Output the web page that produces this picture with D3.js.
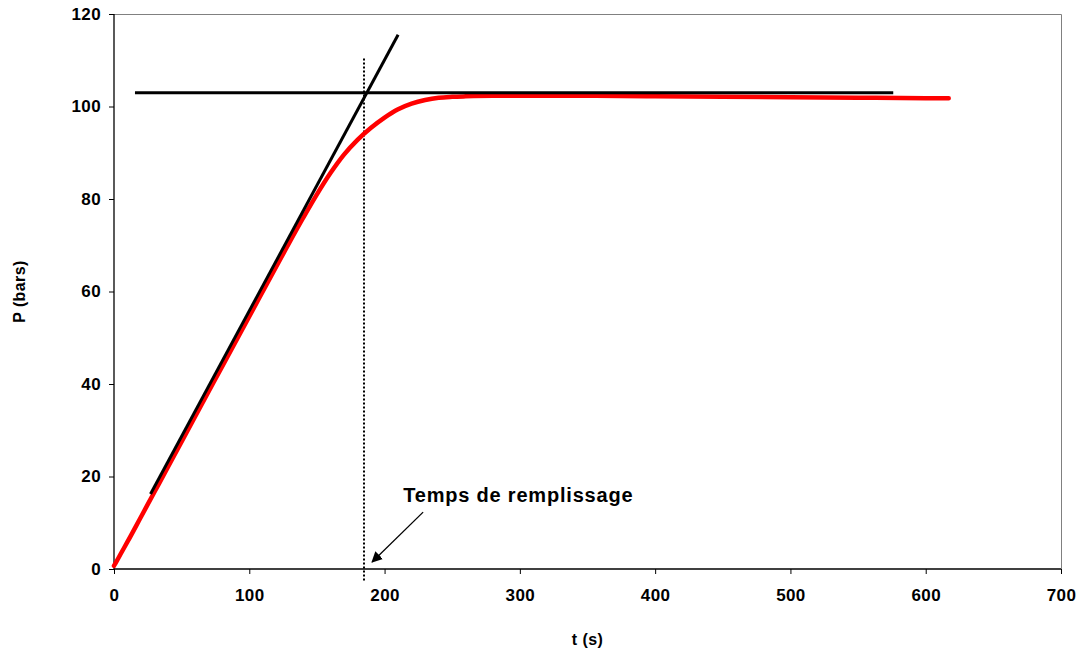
<!DOCTYPE html>
<html><head><meta charset="utf-8">
<script src="https://cdn.jsdelivr.net/npm/d3@7"></script>
<style>body{margin:0;background:#fff}svg{display:block}text{font-family:"Liberation Sans",Arial,sans-serif;font-weight:bold;fill:#000}</style>
</head><body><svg id="c" width="1080" height="653"></svg>
<script>
// Measured pressure curve (red)
const tValues = [0, 2, 5, 10, 20, 30, 40, 60, 80, 100, 120, 140, 150, 160, 170, 180, 190, 200, 210, 220, 230, 240, 250, 260, 280, 300, 350, 400, 450, 500, 550, 600, 617];
const pValues = [0.7, 1.7, 3.3, 5.9, 11.3, 16.7, 22.1, 33.0, 43.8, 54.6, 65.4, 76.0, 81.0, 85.6, 89.6, 92.8, 95.4, 97.6, 99.4, 100.6, 101.4, 101.9, 102.1, 102.2, 102.3, 102.3, 102.3, 102.2, 102.1, 102.0, 101.9, 101.8, 101.8];
// Tangent line (black) endpoints
const tangentT = [27, 210];
const tangentP = [16.2, 115.5];
// Plateau line (black) endpoints
const plateauT = [15.5, 576];
const plateauP = [103, 103];
// Filling time (dotted vertical)
const fillTime = 185;
const fillP = [-2.5, 110.5];
// Annotation
const annotText = "Temps de remplissage";
const annotPos = [213.8, 14.5];
const arrowFrom = [228.5, 12.3];
const arrowTo = [190.8, 1.5];
// Axis ticks
const xTicks = [0, 100, 200, 300, 400, 500, 600, 700];
const yTicks = [0, 20, 40, 60, 80, 100, 120];
const xTitle = "t (s)";
const yTitle = "P (bars)";

const svg = d3.select("#c");
const L = 114, R = 1061, T = 14, B = 569;
const x = d3.scaleLinear().domain([0, 700]).range([L, R]);
const y = d3.scaleLinear().domain([0, 120]).range([B, T]);

svg.append("defs").append("marker").attr("id","ah").attr("viewBox","0 0 10 10")
  .attr("refX",9).attr("refY",5).attr("markerWidth",11).attr("markerHeight",11)
  .attr("markerUnits","userSpaceOnUse").attr("orient","auto")
  .append("path").attr("d","M0,0 L10,5 L0,10 z").attr("fill","#000");

// plot border (top/right grey)
svg.append("path").attr("d",`M${L},${T+0.5}H${R+0.5}V${B}`).attr("fill","none").attr("stroke","#808080").attr("stroke-width",1);

const xa = svg.append("g").attr("transform",`translate(0,${B})`)
  .call(d3.axisBottom(x).tickValues(xTicks).tickSize(5).tickPadding(15).tickFormat(d3.format("d")));
const ya = svg.append("g").attr("transform",`translate(${L},0)`)
  .call(d3.axisLeft(y).tickValues(yTicks).tickSize(5).tickPadding(8).tickFormat(d3.format("d")));
[xa, ya].forEach(g => {
  g.select(".domain").attr("stroke","#000").attr("stroke-width",1.3);
  g.selectAll(".tick line").attr("stroke","#000").attr("stroke-width",1);
  g.selectAll(".tick text").style("font-size","17px").style("letter-spacing","0.4px").style("font-family","'Liberation Sans',Arial,sans-serif").style("font-weight","bold").attr("fill","#000");
});
ya.select(".domain").attr("d",`M0,${B}V${T}`);
xa.select(".domain").attr("d",`M0,0H${R-L}`).attr("transform",`translate(${L},0)`);

const line = d3.line().x(d => x(d[0])).y(d => y(d[1]));

// dotted vertical
const fx = Math.round(x(fillTime));
svg.append("line").attr("x1",fx).attr("x2",fx).attr("y1",y(fillP[0])).attr("y2",y(fillP[1]))
  .attr("stroke","#000").attr("stroke-width",2).attr("stroke-dasharray","2,2");

// red curve
svg.append("path").attr("d", d3.line().curve(d3.curveMonotoneX).x(d=>x(d[0])).y(d=>y(d[1]))(tValues.map((t,i)=>[t,pValues[i]])))
  .attr("stroke","#ff0000").attr("stroke-width",4.5).attr("fill","none").attr("stroke-linecap","round").attr("stroke-linejoin","round");

// tangent & plateau
svg.append("path").attr("d", line(tangentT.map((t,i)=>[t,tangentP[i]])))
  .attr("stroke","#000").attr("stroke-width",3).attr("fill","none");
svg.append("path").attr("d", line(plateauT.map((t,i)=>[t,plateauP[i]])))
  .attr("stroke","#000").attr("stroke-width",3).attr("fill","none");

// annotation
svg.append("text").attr("x", x(annotPos[0])).attr("y", y(annotPos[1])).style("font-size","20px").style("letter-spacing","0.8px").text(annotText);
svg.append("line").attr("x1", x(arrowFrom[0])).attr("y1", y(arrowFrom[1]))
  .attr("x2", x(arrowTo[0])).attr("y2", y(arrowTo[1]))
  .attr("stroke","#000").attr("stroke-width",1.3).attr("marker-end","url(#ah)");

// axis titles
svg.append("text").attr("x",(L+R)/2).attr("y",645).attr("text-anchor","middle").style("font-size","16px").style("letter-spacing","0.4px").text(xTitle);
svg.append("text").attr("transform",`translate(25,${(T+B)/2}) rotate(-90)`).attr("text-anchor","middle").style("font-size","16px").style("letter-spacing","0.4px").text(yTitle);
</script></body></html>
